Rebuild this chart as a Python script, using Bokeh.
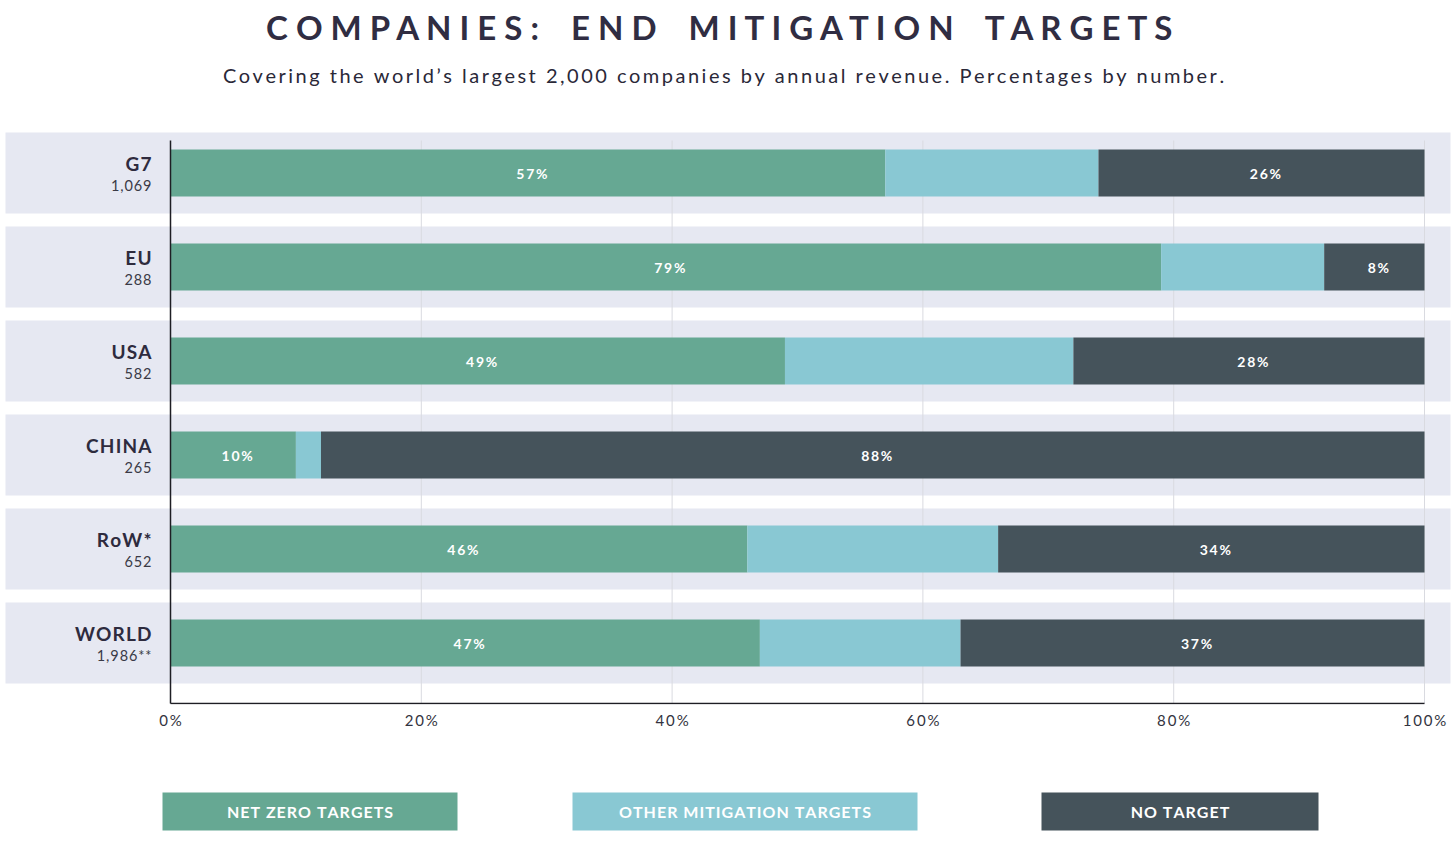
from bokeh.plotting import figure
from bokeh.models import Range1d, ColumnDataSource, FixedTicker
from bokeh.layouts import column
from bokeh.embed import file_html
from bokeh.resources import INLINE
from bokeh.core.properties import value

# ---------------- data ----------------
regions = ["G7", "EU", "USA", "CHINA", "RoW*", "WORLD"]
counts = ["1,069", "288", "582", "265", "652", "1,986**"]
net_zero = [57, 79, 49, 10, 46, 47]
other_mitigation = [17, 13, 23, 2, 20, 16]
no_target = [26, 8, 28, 88, 34, 37]
series_names = ["NET ZERO TARGETS", "OTHER MITIGATION TARGETS", "NO TARGET"]
x_ticks = [0, 20, 40, 60, 80, 100]
title_text = "COMPANIES: END MITIGATION TARGETS"
subtitle_text = "Covering the world\u2019s largest 2,000 companies by annual revenue. Percentages by number."

# ---------------- style ----------------
C_NET = "#66a893"
C_OTHER = "#89c8d3"
C_NONE = "#45535b"
C_BAND = "#e6e8f2"
C_TEXT = "#2e2b3e"
C_GRID = "#d9dae0"
FONT = value("Lato")
HAIR = "\u200a"
THIN = "\u2009"


def track(s, sep):
    """letter-spaced rendering of a string"""
    return sep.join(s)


# ---------------- layout helpers ----------------
W = 1456
PX0, PX100 = 170.0, 1424.0           # picture x of 0% and 100%
SX = (PX100 - PX0) / 100.0
x_start = (0 - PX0) / SX
x_end = (W - PX0) / SX
ROW0, PITCH = 172.5, 94.0            # picture y of first row centre, row pitch


def x_of(px):
    return (px - PX0) / SX


def y_of(py):
    return (py - ROW0) / PITCH


H1 = 753
BOTTOM_BORDER = 49
frame_bottom = H1 - BOTTOM_BORDER

p = figure(width=W, height=H1, output_backend="svg", toolbar_location=None,
           x_range=Range1d(x_start, x_end),
           y_range=Range1d(y_of(frame_bottom), y_of(0)),
           y_axis_location=None,
           min_border_left=0, min_border_right=0, min_border_top=0,
           min_border_bottom=BOTTOM_BORDER)
p.outline_line_color = None
p.xgrid.visible = False
p.ygrid.visible = False
p.background_fill_color = "white"
p.border_fill_color = "white"

rows = list(range(len(regions)))
src = ColumnDataSource(dict(
    y=rows, region=regions, count=counts,
    net=net_zero, other=other_mitigation, none=no_target,
    net_lbl=[track(f"{v}%", THIN) for v in net_zero],
    none_lbl=[track(f"{v}%", THIN) for v in no_target],
    net_x=[v / 2 for v in net_zero],
    none_x=[100 - v / 2 for v in no_target],
    region_lbl=[track(r, HAIR) for r in regions],
    count_lbl=[track(c, HAIR) for c in counts],
))

# bands
p.hbar(y="y", left=x_of(5), right=x_of(1450), height=81 / PITCH,
       color=C_BAND, line_color=None, source=src)

# grid lines
grid_top = y_of(140)
axis_y = y_of(703)
gx = [t for t in x_ticks if t > 0]
p.segment(x0=gx, x1=gx, y0=[grid_top] * len(gx), y1=[axis_y] * len(gx),
          line_color=C_GRID, line_width=1)

# stacked bars
p.hbar_stack(["net", "other", "none"], y="y", height=47 / PITCH,
             color=[C_NET, C_OTHER, C_NONE], line_color=None, source=src)

# value labels
for xcol, tcol in (("net_x", "net_lbl"), ("none_x", "none_lbl")):
    p.text(x=xcol, y="y", text=tcol, source=src, text_align="center",
           text_baseline="middle", text_color="white", text_font=FONT,
           text_font_style="bold", text_font_size="14px", x_offset=4)

# axis lines
p.segment(x0=[0], x1=[0], y0=[grid_top], y1=[axis_y], line_color="#1e1e24", line_width=1.5)
p.segment(x0=[0], x1=[100], y0=[axis_y], y1=[axis_y], line_color="#1e1e24", line_width=1.5)

# category labels
p.text(x=0, y="y", text="region_lbl", source=src, x_offset=-19, y_offset=-10,
       text_align="right", text_baseline="middle", text_color=C_TEXT,
       text_font=FONT, text_font_style="bold", text_font_size="19px")
p.text(x=0, y="y", text="count_lbl", source=src, x_offset=-19, y_offset=12,
       text_align="right", text_baseline="middle", text_color="#3a3a46",
       text_font=FONT, text_font_size="14.5px")

# title / subtitle
spaced_title = ("\u00a0" * 4).join(" ".join(w) for w in title_text.split(" "))
p.text(x=[x_of(726)], y=[y_of(26)], text=[spaced_title], text_align="center",
       text_baseline="middle", text_color="#302d42", text_font=FONT,
       text_font_style="bold", text_font_size="33px")
p.text(x=[x_of(723)], y=[y_of(74)], text=[track(subtitle_text, THIN)], text_align="center",
       text_baseline="middle", text_color="#2a2838", text_font=FONT,
       text_font_size="20px")

# x axis
ax = p.xaxis[0]
ax.ticker = FixedTicker(ticks=x_ticks)
ax.major_label_overrides = {t: track(f"{t}%", THIN) for t in x_ticks}
ax.axis_line_color = None
ax.major_tick_line_color = None
ax.minor_tick_line_color = None
ax.major_label_standoff = 0
ax.major_label_text_font = "Lato"
ax.major_label_text_font_size = "15px"
ax.major_label_text_color = "#333340"

# ---------------- legend figure ----------------
H2 = 833 - H1
lg = figure(width=W, height=H2, output_backend="svg", toolbar_location=None,
            x_range=p.x_range, y_range=Range1d(H2, 0),
            x_axis_location=None, y_axis_location=None,
            min_border=0)
lg.outline_line_color = None
lg.xgrid.visible = False
lg.ygrid.visible = False
lg.background_fill_color = "white"
lg.border_fill_color = "white"

leg_left = [x_of(162), x_of(572), x_of(1041)]
leg_right = [x_of(457), x_of(917), x_of(1318)]
leg_y = 811 - H1
lsrc = ColumnDataSource(dict(
    left=leg_left, right=leg_right,
    xc=[(a + b) / 2 for a, b in zip(leg_left, leg_right)],
    y=[leg_y] * 3, name=[track(n, HAIR) for n in series_names],
    color=[C_NET, C_OTHER, C_NONE]))
lg.hbar(y="y", left="left", right="right", height=38, color="color",
        line_color=None, source=lsrc)
lg.text(x="xc", y="y", text="name", source=lsrc, text_align="center",
        text_baseline="middle", text_color="white", text_font=FONT,
        text_font_style="bold", text_font_size="16px")

layout = column(p, lg, spacing=0)
open("out.html", "w").write(file_html(layout, INLINE))
